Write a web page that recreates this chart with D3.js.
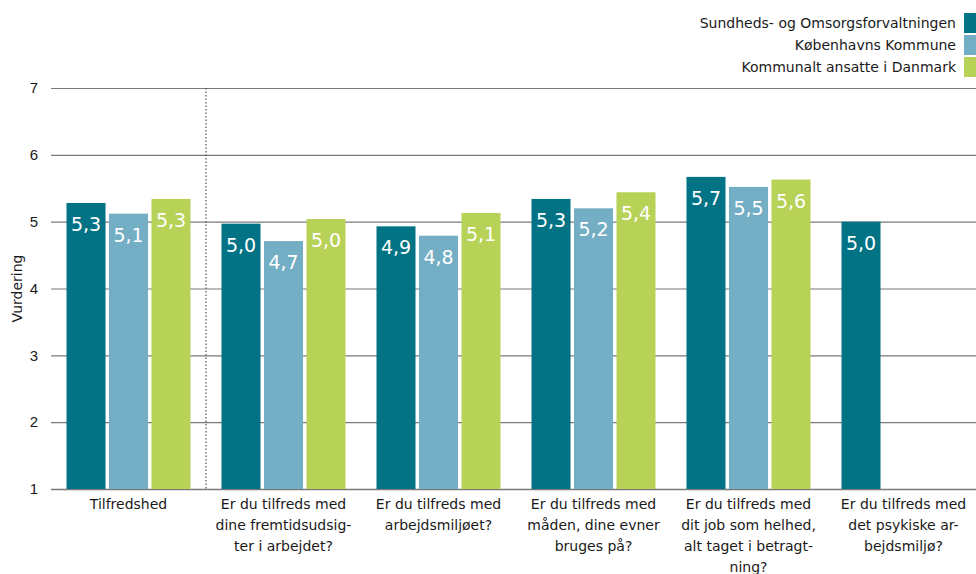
<!DOCTYPE html>
<html>
<head>
<meta charset="utf-8">
<script src="https://cdn.jsdelivr.net/npm/d3@7"></script>
<style>
  body { margin: 0; background: #fff; }
  svg { display: block; font-family: "DejaVu Sans", Verdana, sans-serif; }
</style>
</head>
<body>
<div id="chart"></div>
<script>
// categories (label lines) and series values
const categories = [
    ["Tilfredshed"],
    ["Er du tilfreds med", "dine fremtidsudsig-", "ter i arbejdet?"],
    ["Er du tilfreds med", "arbejdsmiljøet?"],
    ["Er du tilfreds med", "måden, dine evner", "bruges på?"],
    ["Er du tilfreds med", "dit job som helhed,", "alt taget i betragt-", "ning?"],
    ["Er du tilfreds med", "det psykiske ar-", "bejdsmiljø?"]
]
const seriesNames = ["Sundheds- og Omsorgsforvaltningen", "Københavns Kommune", "Kommunalt ansatte i Danmark"]
const sof = [5.28, 4.97, 4.93, 5.34, 5.67, 5.0]
const kk = [5.12, 4.71, 4.79, 5.2, 5.52, null]
const dk = [5.34, 5.04, 5.13, 5.44, 5.63, null]
const yTicks = [1, 2, 3, 4, 5, 6, 7]
const colors = ["#027385", "#74aec4", "#b7d257"]

const w = 976
const h = 574
const pLeft = 51, pRight = 981, pTop = 88, pBottom = 489

const svg = d3.select("#chart")
    .append("svg")
    .attr("width", w)
    .attr("height", h)

const keys = categories.map((c, i) => "c" + i)
const series = [sof, kk, dk]

const x0 = d3.scaleBand()
    .domain(keys)
    .range([pLeft, pRight])
    .paddingInner(0.2)
    .paddingOuter(0.1)

const x1 = d3.scaleBand()
    .domain(seriesNames)
    .range([0, x0.bandwidth()])
    .paddingInner(0.082)

const y = d3.scaleLinear()
    .domain([1, 7])
    .range([pBottom, pTop])

// grid lines
const yAxis = d3.axisLeft(y)
    .tickValues(yTicks)
    .tickSize(-(w - pLeft))
    .tickPadding(13)
    .tickFormat(d3.format("d"))

const gy = svg.append("g")
    .attr("transform", "translate(" + pLeft + ",0)")
    .call(yAxis)
gy.select(".domain").remove()
gy.selectAll(".tick line")
    .attr("stroke", "#7a7a7a")
    .attr("stroke-width", d => d === 1 ? 1.6 : 1.2)
gy.selectAll(".tick text")
    .attr("fill", "#1a1a1a")
    .style("font-size", "15px")

// y label
svg.append("text")
    .attr("transform", "translate(22," + ((pTop + pBottom) / 2) + ") rotate(-90)")
    .attr("text-anchor", "middle")
    .style("font-size", "14px")
    .attr("fill", "#1a1a1a")
    .text("Vurdering")

// dotted separator after first group
const sepX = x0(keys[0]) + x0.bandwidth() + x0.step() * x0.paddingInner() / 2
svg.append("line")
    .attr("x1", sepX).attr("x2", sepX)
    .attr("y1", pTop).attr("y2", pBottom)
    .attr("stroke", "#555")
    .attr("stroke-width", 1.2)
    .attr("stroke-dasharray", "1.5,2")

// bars
const groups = svg.selectAll("g.group")
    .data(keys)
    .enter()
    .append("g")
    .attr("class", "group")
    .attr("transform", d => "translate(" + x0(d) + ",0)")

const fmt = v => d3.format(".1f")(v).replace(".", ",")

groups.each(function (k, i) {
    const g = d3.select(this)
    const vals = series.map((s, j) => ({ name: seriesNames[j], v: s[i], c: colors[j] }))
        .filter(d => d.v != null)
    g.selectAll("rect")
        .data(vals)
        .enter()
        .append("rect")
        .attr("x", d => x1(d.name))
        .attr("y", d => y(d.v))
        .attr("width", x1.bandwidth())
        .attr("height", d => y(1) - y(d.v))
        .attr("fill", d => d.c)
    g.selectAll("text.val")
        .data(vals)
        .enter()
        .append("text")
        .attr("class", "val")
        .attr("x", d => x1(d.name) + x1.bandwidth() / 2)
        .attr("y", d => y(d.v) + 28)
        .attr("text-anchor", "middle")
        .attr("fill", "#fff")
        .style("font-size", "19px")
        .text(d => fmt(d.v))
})

// category labels
categories.forEach((lines, i) => {
    const t = svg.append("text")
        .attr("text-anchor", "middle")
        .attr("fill", "#1a1a1a")
        .style("font-size", "14px")
    lines.forEach((ln, j) => {
        t.append("tspan")
            .attr("x", x0(keys[i]) + x0.bandwidth() / 2)
            .attr("y", 509 + j * 21)
            .text(ln)
    })
})

// legend
const legend = svg.selectAll("g.legend")
    .data(seriesNames)
    .enter()
    .append("g")
    .attr("class", "legend")
    .attr("transform", (d, i) => "translate(0," + (i * 22) + ")")

legend.append("rect")
    .attr("x", 964)
    .attr("y", 13)
    .attr("width", 14)
    .attr("height", 20)
    .attr("fill", (d, i) => colors[i])

legend.append("text")
    .attr("x", 956)
    .attr("y", 28)
    .attr("text-anchor", "end")
    .attr("fill", "#1a1a1a")
    .style("font-size", "14px")
    .text(d => d)
</script>
</body>
</html>
